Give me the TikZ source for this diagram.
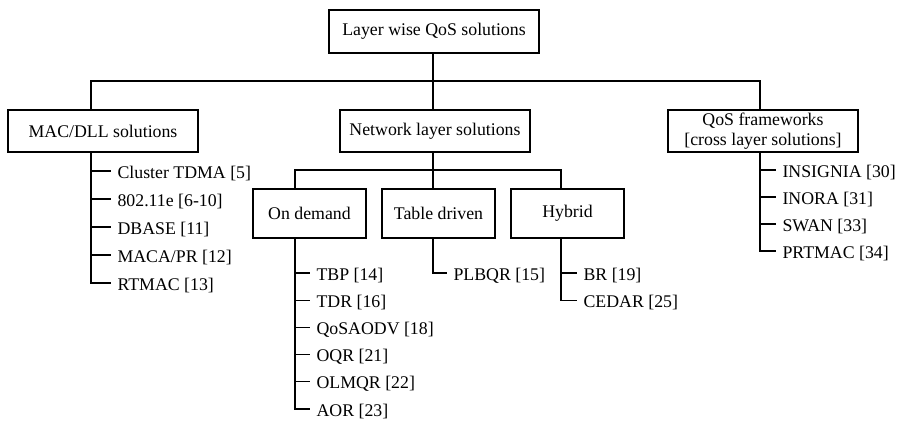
\documentclass[tikz,border=0pt]{standalone}
\usepackage{fontspec}
\setmainfont{Liberation Serif}
\usetikzlibrary{calc}
\begin{document}
\begin{tikzpicture}[x=1pt,y=-1pt,line width=1.1pt,
  lbl/.style={font=\fontsize{17.8}{20}\selectfont},
  box/.style={lbl,draw,line width=1.1pt,inner sep=0pt,align=center},
  mainbox/.style={box,minimum width=190pt,minimum height=42pt},
  subbox/.style={box,minimum width=113pt,minimum height=49pt},
  item/.style={lbl,inner xsep=6pt,inner ysep=0pt,anchor=base west},
  heavy/.style={line width=1.7pt}]
\useasboundingbox (0,0) rectangle (901,420);

% boxes
\node[box,minimum width=210pt,minimum height=43pt] (root) at (434,31.5) {Layer wise QoS solutions};
\node[mainbox] (mac) at (103,131) {MAC/DLL solutions};
\node[mainbox] (net) at (435,131) {Network layer solutions};
\node[mainbox] (qos) at (763,131) {QoS frameworks\\{[}cross layer solutions{]}};
\node[subbox] (od) at (309.5,213.5) {On demand};
\node[subbox] (td) at (438.5,213.5) {Table driven};
\node[subbox] (hy) at (567.5,213.5) {Hybrid};

% tree from the root
\coordinate (trunk) at (433,81);
\coordinate (busL) at (91,81);
\coordinate (busR) at (760,81);
\draw (root.south -| trunk) -- (net.north -| trunk);
\draw (mac.north -| busL) |- (busR) -- (qos.north -| busR);

\coordinate (sub) at (433,170);
\coordinate (subL) at (295,170);
\coordinate (subR) at (561,170);
\draw (net.south -| sub) -- (td.north -| sub);
\draw (od.north -| subL) |- (subR) -- (hy.north -| subR);

% MAC/DLL list
\node[item] (ct) at (111,178) {Cluster TDMA [5]};
\node[item] (ee) at (111,206) {802.11e [6-10]};
\node[item] (db) at (111,234) {DBASE [11]};
\node[item] (mp) at (111,262) {MACA/PR [12]};
\node[item] (rt) at (111,290) {RTMAC [13]};

% QoS framework list
\node[item] (ins) at (776,177) {INSIGNIA [30]};
\node[item] (ino) at (776,204) {INORA [31]};
\node[item] (sw) at (776,231) {SWAN [33]};
\node[item] (pr) at (776,258) {PRTMAC [34]};

% on-demand list
\node[item] (tbp) at (310,280) {TBP [14]};
\node[item] (tdr) at (310,307.2) {TDR [16]};
\node[item] (qa) at (310,334.4) {QoSAODV [18]};
\node[item] (oqr) at (310,361.6) {OQR [21]};
\node[item] (olm) at (310,388.8) {OLMQR [22]};
\node[item] (aor) at (310,416) {AOR [23]};

% table-driven list
\node[item] (plb) at (447,280) {PLBQR [15]};

% hybrid list
\node[item] (br) at (577,280) {BR [19]};
\node[item] (ced) at (577,307.2) {CEDAR [25]};

% tick points just above each baseline
\foreach \n in {ct,ee,db,mp,rt,ins,ino,sw,pr,tbp,tdr,qa,oqr,olm,aor,plb,br,ced}
  \coordinate (tick\n) at ($(\n.base west)+(0,-7)$);

% list spines and ticks
\draw (mac.south -| busL) |- (tickrt);
\foreach \n in {ct,ee,db,mp} \draw (tick\n -| busL) -- (tick\n);

\draw (qos.south -| busR) |- (tickpr);
\foreach \n in {ins,ino,sw} \draw (tick\n -| busR) -- (tick\n);

\draw[heavy] (od.south -| subL) -- (tickqa -| subL);
\draw (tickqa -| subL) |- (tickaor);
\foreach \n in {tbp,tdr,qa,oqr,olm} \draw (tick\n -| subL) -- (tick\n);

\draw (td.south -| sub) |- (tickplb);

\draw (hy.south -| subR) |- (tickced);
\draw (tickbr -| subR) -- (tickbr);
\end{tikzpicture}
\end{document}
